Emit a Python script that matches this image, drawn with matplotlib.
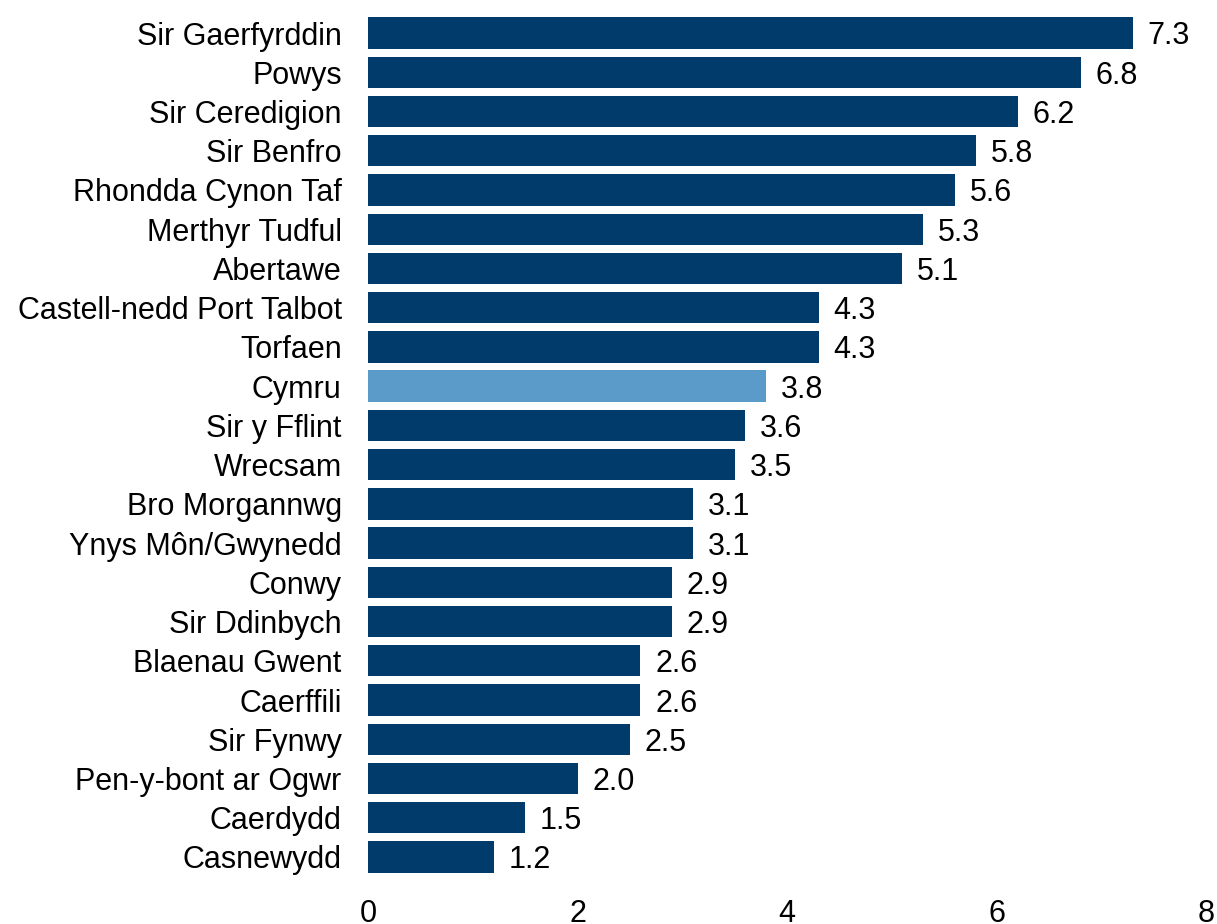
import matplotlib
matplotlib.use("Agg")
import matplotlib.pyplot as plt

categories = ["Sir Gaerfyrddin", "Powys", "Sir Ceredigion", "Sir Benfro", "Rhondda Cynon Taf",
              "Merthyr Tudful", "Abertawe", "Castell-nedd Port Talbot", "Torfaen", "Cymru",
              "Sir y Fflint", "Wrecsam", "Bro Morgannwg", "Ynys Môn/Gwynedd", "Conwy",
              "Sir Ddinbych", "Blaenau Gwent", "Caerffili", "Sir Fynwy", "Pen-y-bont ar Ogwr",
              "Caerdydd", "Casnewydd"]
values = [7.3, 6.8, 6.2, 5.8, 5.6, 5.3, 5.1, 4.3, 4.3, 3.8, 3.6, 3.5, 3.1, 3.1, 2.9, 2.9,
          2.6, 2.6, 2.5, 2.0, 1.5, 1.2]
highlight = "Cymru"
xticks = [0, 2, 4, 6, 8]

plt.rcParams['font.family'] = ['Liberation Sans', 'DejaVu Sans']

fig = plt.figure(figsize=(12.17, 9.24), dpi=100)
ax = fig.add_axes([0.3024, 0.0513, 0.6889, 0.9342])

dark = "#003B6C"
light = "#5B9BC9"
colors = [light if c == highlight else dark for c in categories]
ypos = list(range(len(categories)))
ax.barh(ypos, values, height=0.8, color=colors)

for y, v in zip(ypos, values):
    ax.annotate(f"{v:.1f}", xy=(v, y), xytext=(10.5, -2.5), textcoords="offset points",
                ha="left", va="center", fontsize=22, color="black")

ax.set_yticks(ypos)
ax.set_yticklabels(categories, fontsize=22)
ax.set_ylim(len(categories) - 0.5, -0.5)
ax.set_xlim(0, 8)
ax.set_xticks(xticks)
ax.set_xticklabels([str(t) for t in xticks], fontsize=22)
ax.tick_params(axis="y", length=0, pad=19)
ax.tick_params(axis="x", length=0, pad=16)
for s in ax.spines.values():
    s.set_visible(False)

fig.savefig("out.png", dpi=100)
